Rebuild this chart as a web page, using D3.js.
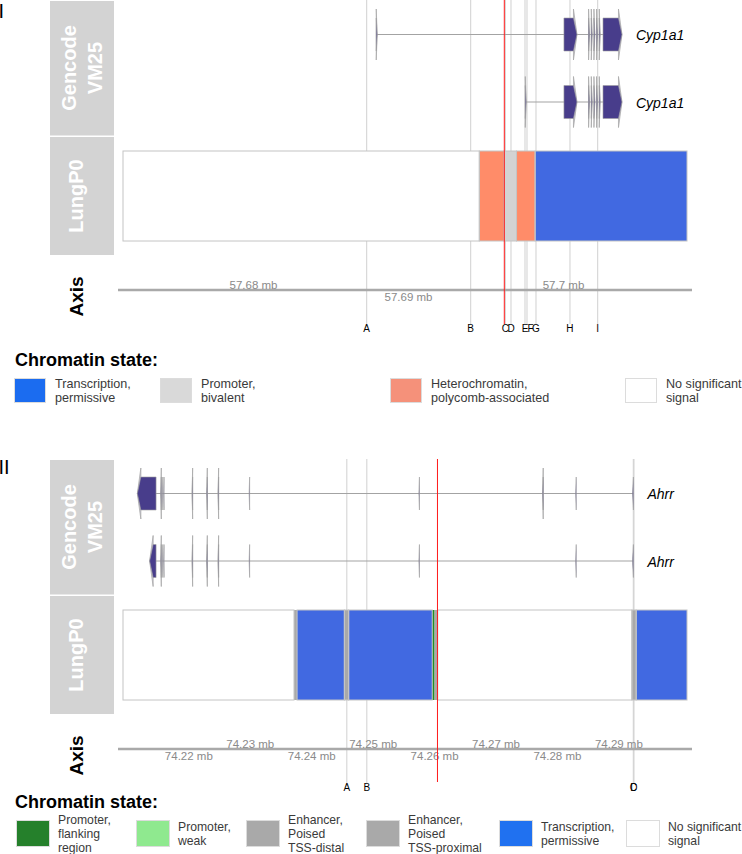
<!DOCTYPE html>
<html><head><meta charset="utf-8">
<script src="https://cdn.jsdelivr.net/npm/d3@7"></script>
<style>
body{margin:0;background:#fff}
svg{display:block}
text{font-family:"Liberation Sans",Arial,Helvetica,sans-serif}
</style>
</head><body>
<svg id="c" width="742" height="854"></svg>
<script>
// ================= DATA =================
// Panel I : Cyp1a1 locus
const p1Domain = [57671610, 57708000];
const p1Ticks = [57680000, 57690000, 57700000];
const p1Gene = "Cyp1a1";
const p1Strand = "+";
// exons: [start, end, strandArrow]
const p1Tx1 = [[57687950,57688010,1],[57700060,57700900,1],[57701650,57701705,1],[57701825,57701880,1],[57701995,57702050,1],[57702165,57702220,1],[57702340,57702395,1],[57702580,57703805,1]];
const p1Tx2 = [[57697565,57697625,1],[57700060,57700900,1],[57701650,57701705,1],[57701825,57701880,1],[57701995,57702050,1],[57702165,57702220,1],[57702340,57702395,1],[57702580,57703805,1]];
const p1Starts = [57671610, 57694600, 57696200, 57697000, 57698200];
const p1Ends   = [57694600, 57696200, 57697000, 57698200, 57708000];
const p1States = ["none","hetero","bivalent","hetero","tx"];
const p1Markers = ["A","B","C","D","E","F","G","H","I"];
const p1MarkerPos = [57687334,57694044,57696280,57696644,57697547,57697676,57698257,57700450,57702238];
const p1Red = 57696212;

// Panel II : Ahrr locus
const p2Domain = [74209365, 74301173];
const p2Ticks = [74220000,74230000,74240000,74250000,74260000,74270000,74280000,74290000];
const p2Gene = "Ahrr";
const p2Strand = "-";
const p2Tx1 = [[74211700,74214750,1],[74215520,74215600,1],[74215780,74215840,0],[74215990,74216050,0],[74220610,74220700,1],[74223000,74223090,1],[74224840,74224930,1],[74229890,74229980,0],[74257530,74257620,0],[74277680,74277770,1],[74283050,74283140,0],[74292300,74292450,0]];
const p2Tx2 = [[74213700,74214750,1],[74215520,74215600,1],[74215780,74215840,0],[74215990,74216050,0],[74220610,74220700,1],[74223000,74223090,1],[74224840,74224930,1],[74229890,74229980,0],[74257530,74257620,0],[74283050,74283140,0],[74292300,74292450,0]];
const p2Starts = [74209365,74237200,74237700,74245400,74246100,74259700,74260080,74260600,74292200,74292900];
const p2Ends   = [74237200,74237700,74245400,74246100,74259700,74260080,74260600,74292200,74292900,74301173];
const p2States = ["none","enhD","tx","enhP","tx","promF","enhP","none","enhD","tx"];
const p2Markers = ["A","B","C","D"];
const p2MarkerPos = [74245799,74249056,74292429,74292543];
const p2Red = 74260555;

// Legends
const leg1Labels = [["Transcription,","permissive"],["Promoter,","bivalent"],["Heterochromatin,","polycomb-associated"],["No significant","signal"]];
const leg1Colors = ["#1b6cf0","#d9d9d9","#f5917a","#ffffff"];
const leg2Labels = [["Promoter,","flanking","region"],["Promoter,","weak"],["Enhancer,","Poised","TSS-distal"],["Enhancer,","Poised","TSS-proximal"],["Transcription,","permissive"],["No significant","signal"]];
const leg2Colors = ["#25802b","#8fe98f","#a9a9a9","#a9a9a9","#2071f0","#ffffff"];

// state colours in the tracks
const stateColor = {none:"#ffffff", hetero:"#ff8c69", bivalent:"#d3d3d3", tx:"#4169e1",
                    promF:"#228b22", promW:"#90ee90", enhD:"#a9a9a9", enhP:"#a9a9a9"};

// ================= DRAW =================
const svg = d3.select("#c");
const EXON = "#483d8b";

function drawTx(g, x, exons, y, strand) {
  const xs = exons.map(e => [x(e[0]), x(e[1])]);
  const lo = d3.min(xs, d => d[0]), hi = d3.max(xs, d => d[1]);
  g.append("line").attr("x1", lo).attr("x2", hi).attr("y1", y).attr("y2", y)
    .attr("stroke", "#a3a3a3").attr("stroke-width", 1);
  exons.forEach(e => {
    const x0 = x(e[0]), x1 = x(e[1]);
    const w = x1 - x0, head = Math.min(3.5, w);
    if (e[2]) {
      const base = strand === "+" ? x1 - head : x0 + head;
      const tip = strand === "+" ? x1 : x0;
      g.append("path").attr("d", `M${base},${y-25.5}L${tip},${y}L${base},${y+25.5}Z`)
        .attr("fill", EXON).attr("fill-opacity", 0.25).attr("stroke", "#aaaaaa").attr("stroke-width", 0.8);
    }
    const h = 16.5;
    const pts = strand === "+"
      ? [[x0,y-h],[x1-head,y-h],[x1,y],[x1-head,y+h],[x0,y+h]]
      : [[x1,y-h],[x0+head,y-h],[x0,y],[x0+head,y+h],[x1,y+h]];
    g.append("path").attr("d", d3.line()(pts) + "Z")
      .attr("fill", EXON).attr("stroke", "#a0a0a0").attr("stroke-width", 0.6);
  });
  return hi;
}

function rotLabel(g, lines, cx, cy, size, color, gap) {
  const t = g.append("text").attr("transform", `translate(${cx},${cy}) rotate(-90)`)
    .attr("text-anchor", "middle").attr("font-weight", "bold").attr("font-size", size).attr("fill", color);
  const n = lines.length;
  lines.forEach((l, i) => {
    t.append("tspan").attr("x", 0).attr("y", (i - (n - 1) / 2) * gap + size * 0.36).text(l);
  });
}

function panel(top, cfg) {
  const g = svg.append("g").attr("transform", `translate(0,${top})`);
  const x = d3.scaleLinear().domain(cfg.domain).range([123, 687]);

  // title boxes
  g.append("rect").attr("x", 50).attr("y", 1).attr("width", 64).attr("height", 134.5).attr("fill", "#d3d3d3");
  g.append("rect").attr("x", 50).attr("y", 137).attr("width", 64).attr("height", 118).attr("fill", "#d3d3d3");
  rotLabel(g, ["Gencode", "VM25"], 82, 68, 20, "#ffffff", 26);
  rotLabel(g, ["LungP0"], 75.5, 196, 20, "#ffffff", 26);
  rotLabel(g, ["Axis"], 76.5, 296.5, 19, "#000000", 26);

  // marker lines
  const mk = cfg.markers.map((m, i) => ({m, x: x(cfg.markerPos[i])}));
  g.selectAll("line.mk").data(mk).enter().append("line").attr("class", "mk")
    .attr("x1", d => d.x).attr("x2", d => d.x).attr("y1", cfg.lineTop).attr("y2", 324)
    .attr("stroke", "#d0d0d0").attr("stroke-width", 1);

  // transcripts
  const hi1 = drawTx(g, x, cfg.tx1, 34.5, cfg.strand);
  const hi2 = drawTx(g, x, cfg.tx2, 102, cfg.strand);
  [[hi1, 34.5], [hi2, 102]].forEach(([h, y]) => {
    g.append("text").attr("x", h + 14).attr("y", y + 5.5).attr("font-size", 14).attr("font-style", "italic")
      .attr("fill", "#000").text(cfg.gene);
  });

  // chromatin states: fills, then outlines on the wider pieces
  const segs = cfg.starts.map((s, i) => ({s, e: cfg.ends[i], st: cfg.states[i]}));
  g.selectAll("rect.seg").data(segs).enter().append("rect").attr("class", "seg")
    .attr("x", d => x(d.s)).attr("width", d => x(d.e) - x(d.s))
    .attr("y", 151).attr("height", 90)
    .attr("fill", d => stateColor[d.st]);
  g.selectAll("rect.segb").data(segs.filter(d => x(d.e) - x(d.s) > 4)).enter().append("rect").attr("class", "segb")
    .attr("x", d => x(d.s)).attr("width", d => x(d.e) - x(d.s))
    .attr("y", 151).attr("height", 90)
    .attr("fill", "none").attr("stroke", "#c4c4c4").attr("stroke-width", 1);

  // axis
  g.append("line").attr("x1", 118).attr("x2", 692).attr("y1", 290).attr("y2", 290)
    .attr("stroke", "#a9a9a9").attr("stroke-width", 2.5);
  const ax = d3.axisBottom(x).tickValues(cfg.ticks).tickSize(0).tickSizeOuter(0)
    .tickFormat(v => `${+(v / 1e6).toFixed(2)} mb`);
  const ag = g.append("g").attr("transform", "translate(0,290)").call(ax);
  ag.select(".domain").remove();
  ag.selectAll("text").attr("font-size", 11.5).attr("fill", "#8a8a8a")
    .attr("font-family", '"Liberation Sans",Arial,sans-serif')
    .attr("dy", "0")
    .attr("y", (d, i) => ((i + cfg.tickPhase) % 2 === 0) ? -1.5 : 10.5);

  // marker labels (push apart partially-overlapping labels)
  let prev = -1e9;
  mk.forEach(d => {
    let lx = d.x;
    const gap = lx - prev;
    if (gap > 1.5 && gap < 5.5) lx = prev + 5.5;
    d.lx = lx; prev = lx;
  });
  g.selectAll("text.mk").data(mk).enter().append("text").attr("class", "mk")
    .attr("x", d => d.lx).attr("y", 332).attr("text-anchor", "middle")
    .attr("font-size", 10).attr("fill", "#000").text(d => d.m);

  // red line
  g.append("line").attr("x1", x(cfg.red)).attr("x2", x(cfg.red)).attr("y1", cfg.lineTop).attr("y2", cfg.redBottom)
    .attr("stroke", "#ff1a1a").attr("stroke-width", 1);

  // panel label
  g.append("text").attr("x", -1.5).attr("y", cfg.labelY).attr("font-size", 20)
    .attr("fill", "#000").text(cfg.label);
}

panel(0, {domain: p1Domain, ticks: p1Ticks, gene: p1Gene, strand: p1Strand, tx1: p1Tx1, tx2: p1Tx2,
  starts: p1Starts, ends: p1Ends, states: p1States, markers: p1Markers, markerPos: p1MarkerPos,
  red: p1Red, tickPhase: 0, lineTop: 0, redBottom: 324, label: "I", labelY: 18});
panel(459, {domain: p2Domain, ticks: p2Ticks, gene: p2Gene, strand: p2Strand, tx1: p2Tx1, tx2: p2Tx2,
  starts: p2Starts, ends: p2Ends, states: p2States, markers: p2Markers, markerPos: p2MarkerPos,
  red: p2Red, tickPhase: 1, lineTop: 0, redBottom: 323, label: "II", labelY: 15});

// legends
function legend(cfg) {
  const g = svg.append("g");
  g.append("text").attr("x", cfg.titleX).attr("y", cfg.titleY).attr("font-size", 18).attr("font-weight", "bold")
    .attr("fill", "#000").text("Chromatin state:");
  cfg.labels.forEach((lines, i) => {
    const sx = cfg.xs[i];
    g.append("rect").attr("x", sx + 0.5).attr("y", cfg.sy + 0.5).attr("width", cfg.sw).attr("height", cfg.sh)
      .attr("fill", cfg.colors[i]).attr("stroke", "#dcdcdc").attr("stroke-width", 1);
    const cy = cfg.sy + cfg.sh / 2;
    const n = lines.length, lh = 14;
    const t = g.append("text").attr("font-size", cfg.fs).attr("fill", "#3a3a3a");
    lines.forEach((l, j) => {
      t.append("tspan").attr("x", sx + cfg.tdx).attr("y", cy + (j - (n - 1) / 2) * lh + 4.5).text(l);
    });
  });
}
legend({labels: leg1Labels, colors: leg1Colors, titleX: 15, titleY: 366, xs: [14, 160, 390, 625], sw: 31, sy: 378, sh: 24, tdx: 41, fs: 12.6});
legend({labels: leg2Labels, colors: leg2Colors, titleX: 15, titleY: 808, xs: [16, 136, 246, 366, 499, 626], sw: 33, sy: 820, sh: 26, tdx: 42, fs: 12.2});
</script>
</body></html>
